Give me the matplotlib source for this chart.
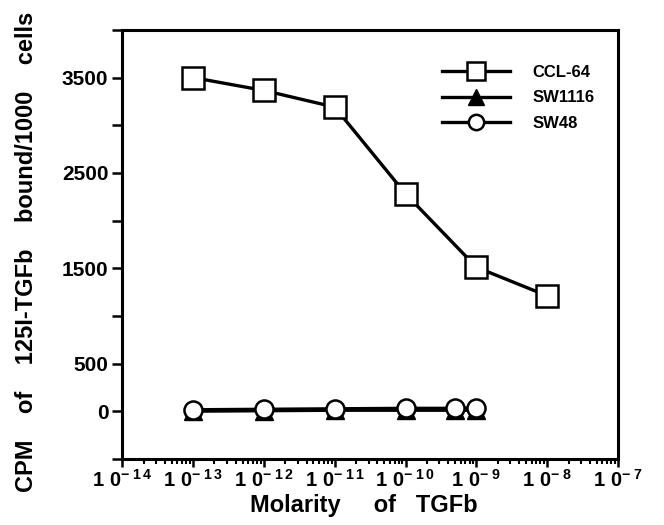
import numpy as np
import matplotlib
matplotlib.use("Agg")
import matplotlib.pyplot as plt
from matplotlib.ticker import FixedLocator, LogLocator, NullFormatter

plt.rcParams['font.family'] = ['Liberation Sans', 'DejaVu Sans']
plt.rcParams['font.weight'] = 'bold'
plt.rcParams['mathtext.fontset'] = 'custom'
plt.rcParams['mathtext.rm'] = 'Liberation Sans:bold'
plt.rcParams['mathtext.bf'] = 'Liberation Sans:bold'

# data
ccl64_x = [1e-13, 1e-12, 1e-11, 1e-10, 1e-9, 1e-8]
ccl64_y = [3500, 3365, 3190, 2280, 1510, 1210]

sw1116_x = [1e-13, 1e-12, 1e-11, 1e-10, 5e-10, 1e-9]
sw1116_y = [0, 5, 10, 10, 10, 10]

sw48_x = [1e-13, 1e-12, 1e-11, 1e-10, 5e-10, 1e-9]
sw48_y = [15, 20, 25, 30, 30, 35]

y_major = [0, 500, 1500, 2500, 3500]
y_minor = [-500, 1000, 2000, 3000, 4000]
x_decades = list(range(-14, -6))

fig = plt.figure(figsize=(6.64, 5.25), dpi=100)
ax = fig.add_axes([0.184, 0.126, 0.747, 0.817])

lw = 2.4
ax.plot(ccl64_x, ccl64_y, color='black', lw=lw, marker='s', ms=16,
        mfc='white', mec='black', mew=1.8, label='CCL-64', zorder=3)
ax.plot(sw1116_x, sw1116_y, color='black', lw=lw, marker='^', ms=13,
        mfc='black', mec='black', label='SW1116', zorder=3)
ax.plot(sw48_x, sw48_y, color='black', lw=lw, marker='o', ms=13,
        mfc='white', mec='black', mew=1.8, label='SW48', zorder=4)

ax.set_xscale('log')
ax.set_xlim(1e-14, 1e-7)
ax.set_ylim(-500, 4000)

ax.set_xticks([10.0 ** d for d in x_decades])
ax.set_xticklabels([r'$\mathregular{1\;0^{-\;%s}}$' % r'\,'.join(str(-d))
                    for d in x_decades], fontsize=14.5)
ax.xaxis.set_minor_locator(LogLocator(base=10, subs=np.arange(2, 10)))
ax.xaxis.set_minor_formatter(NullFormatter())

ax.set_yticks(y_major)
ax.set_yticklabels([str(v) for v in y_major], fontsize=15)
ax.yaxis.set_minor_locator(FixedLocator(y_minor))

ax.tick_params(axis='x', which='major', direction='out', width=1.8,
               length=6, pad=1)
ax.tick_params(axis='x', which='minor', direction='out', width=1.5, length=3.5)
ax.tick_params(axis='y', which='both', direction='out', width=1.8,
               length=7, pad=3)

for s in ax.spines.values():
    s.set_linewidth(2.2)

ax.set_xlabel('Molarity     of   TGFb', fontsize=17, fontweight='bold')
ax.set_ylabel('CPM    of    125I-TGFb    bound/1000    cells', fontsize=17,
              fontweight='bold')
ax.xaxis.set_label_coords(0.488, -0.082)
ax.yaxis.set_label_coords(-0.17, 0.482)

leg = ax.legend(loc='upper left', bbox_to_anchor=(0.645, 0.918),
                frameon=False, borderpad=0, borderaxespad=0,
                fontsize=12, handlelength=4.1, labelspacing=0.62,
                handletextpad=1.3, markerscale=0.85)

fig.savefig('out.png', dpi=100)
